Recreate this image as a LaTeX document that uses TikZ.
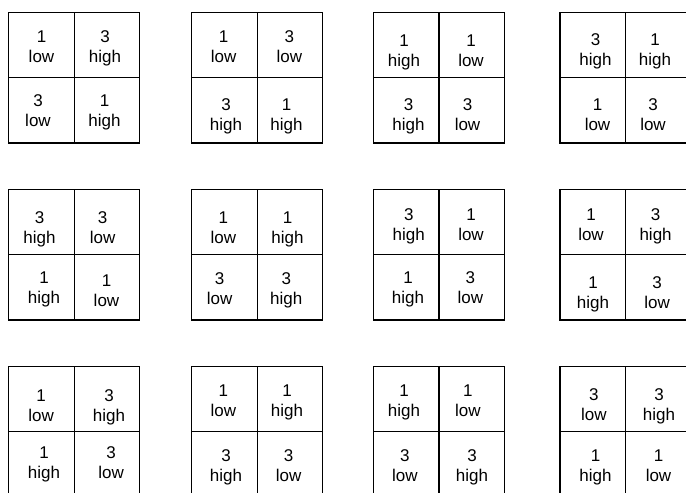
\documentclass[tikz,border=0pt]{standalone}
\usepackage{fontspec}
\setmainfont{Liberation Sans}
\begin{document}
\begin{tikzpicture}[x=1pt,y=-1pt,
		lbl/.style={align=center,anchor=base,inner sep=0pt,font=\fontsize{17}{20}\selectfont}]
		\useasboundingbox (0,0) rectangle (686,493);
		% the twelve squares, each split in four
		\foreach \bx in {8.5,191.7,373.3,560}
		\foreach \by in {12.3,189.3,366.7}{
			\draw[line width=1.4pt] (\bx,\by) rectangle ++(131,130.5);
			\draw[line width=1.4pt] (\bx+65.7,\by) -- ++(0,130.5);
			\draw[line width=1.4pt] (\bx,\by+65) -- ++(131,0);
		}
		% cell texts, placed at the baseline of the lower word
		\foreach \x/\y/\n/\w [count=\i] in {
			41.5/62.7/1/low, 105/62.7/3/high, 38/126.7/3/low, 104.5/126.5/1/high,
			223.7/62.7/1/low, 289.3/62.7/3/low, 226/130.7/3/high, 286.5/130.7/1/high,
			404/66/1/high, 471/66/1/low, 408.5/130.7/3/high, 467.5/130.7/3/low,
			595.5/65/3/high, 655/65/1/high, 597.5/130.7/1/low, 653/130.7/3/low,
			39.5/243.3/3/high, 102.7/243.3/3/low, 44/303.3/1/high, 106.5/306.7/1/low,
			223.3/243.3/1/low, 287.5/243.3/1/high, 219.6/304.3/3/low, 286.3/304.3/3/high,
			408.8/240/3/high, 471/240/1/low, 408/303.3/1/high, 470.3/303.3/3/low,
			591/240/1/low, 655.6/240/3/high, 593/308.3/1/high, 657.2/308.3/3/low,
			41.2/421.7/1/low, 109/421.7/3/high, 44/478.3/1/high, 111.2/478.3/3/low,
			223.3/416.7/1/low, 287/416.7/1/high, 226/481.7/3/high, 288.6/481.7/3/low,
			404/416.7/1/high, 467.8/416.7/1/low, 404.8/481.7/3/low, 472/481.7/3/high,
			593.8/420.7/3/low, 659/420.7/3/high, 595.5/481.7/1/high, 658.5/481.7/1/low}
		\node[lbl] (t\i) at (\x,\y) {\n\\\w};
	\end{tikzpicture}
\end{document}
